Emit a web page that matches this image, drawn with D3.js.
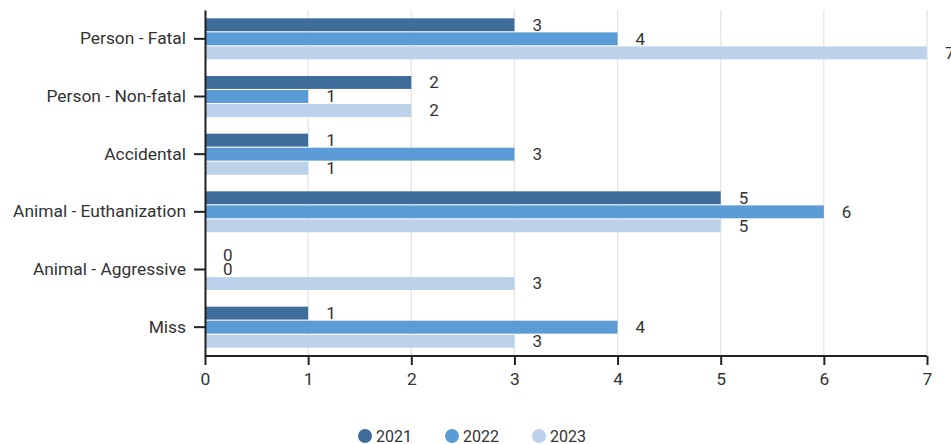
<!DOCTYPE html>
<html>
<head>
<meta charset="utf-8">
<script src="https://cdn.jsdelivr.net/npm/d3@7"></script>
<style>
  html, body { margin: 0; padding: 0; background: #fff; }
  svg { display: block; font-family: Roboto, "Noto Sans", sans-serif; }
</style>
</head>
<body>
<svg id="chart" width="951" height="444"></svg>
<script>
// Incident categories and yearly counts
const categories = ["Person - Fatal", "Person - Non-fatal", "Accidental", "Animal - Euthanization", "Animal - Aggressive", "Miss"];
const years = ["2021", "2022", "2023"];
const values2021 = [3, 2, 1, 5, 0, 1];
const values2022 = [4, 1, 3, 6, 0, 4];
const values2023 = [7, 2, 1, 5, 3, 3];
const xTicks = [0, 1, 2, 3, 4, 5, 6, 7];

const seriesByYear = { "2021": values2021, "2022": values2022, "2023": values2023 };
const colors = { "2021": "#3f6d9b", "2022": "#5b9bd6", "2023": "#bcd1ea" };

const svg = d3.select("#chart");
const margin = { top: 10, left: 205, right: 24, bottom: 88 };
const width = 951, height = 444;
const plotBottom = height - margin.bottom;

const x = d3.scaleLinear().domain([0, 7]).range([margin.left, 927]);
const y = d3.scaleBand().domain(categories).range([margin.top, plotBottom]).paddingInner(0.25).paddingOuter(0.125);
const ySub = d3.scaleBand().domain(years).range([0, y.bandwidth()]).padding(0.08);

// vertical gridlines
svg.append("g").selectAll("line").data(xTicks).join("line")
  .attr("x1", d => x(d)).attr("x2", d => x(d))
  .attr("y1", margin.top).attr("y2", plotBottom)
  .attr("stroke", "#e3e3e3").attr("stroke-width", 1.2);

// bars
const rows = categories.map((c, i) => ({ c, items: years.map(yr => ({ yr, v: seriesByYear[yr][i] })) }));
const groups = svg.append("g").selectAll("g").data(rows).join("g")
  .attr("transform", d => `translate(0,${y(d.c)})`);

groups.selectAll("rect").data(d => d.items).join("rect")
  .attr("x", x(0))
  .attr("y", d => ySub(d.yr))
  .attr("width", d => x(d.v) - x(0))
  .attr("height", ySub.bandwidth())
  .attr("fill", d => colors[d.yr]);

groups.selectAll("text").data(d => d.items).join("text")
  .attr("x", d => x(d.v) + 18)
  .attr("y", d => ySub(d.yr) + ySub.bandwidth() / 2)
  .attr("dy", "0.35em")
  .attr("font-size", 17)
  .attr("fill", "#333")
  .text(d => d.v);

// axes
const xAxis = svg.append("g")
  .attr("transform", `translate(0,${plotBottom})`)
  .call(d3.axisBottom(x).tickValues(xTicks).tickFormat(d3.format("d")).tickSize(9).tickPadding(8));
const yAxis = svg.append("g")
  .attr("transform", `translate(${margin.left},0)`)
  .call(d3.axisLeft(y).tickSize(11).tickPadding(8).tickSizeOuter(0));

[xAxis, yAxis].forEach(a => {
  a.select(".domain").attr("stroke", "#222").attr("stroke-width", 2);
  a.selectAll(".tick line").attr("stroke", "#222").attr("stroke-width", 2);
  a.selectAll("text").attr("font-size", 17.4).attr("fill", "#333").attr("font-family", "Roboto, sans-serif");
});
xAxis.select(".domain").attr("d", `M${x(0)},0H${x(7)}`);

// legend
const legend = svg.append("g").attr("transform", "translate(365,436)");
const legendStep = 87;
const li = legend.selectAll("g").data(years).join("g")
  .attr("transform", (d, i) => `translate(${i * legendStep},0)`);
li.append("circle").attr("r", 7).attr("fill", d => colors[d]);
li.append("text").attr("x", 11).attr("dy", "0.35em")
  .attr("font-size", 16).attr("fill", "#333").text(d => d);
</script>
</body>
</html>
